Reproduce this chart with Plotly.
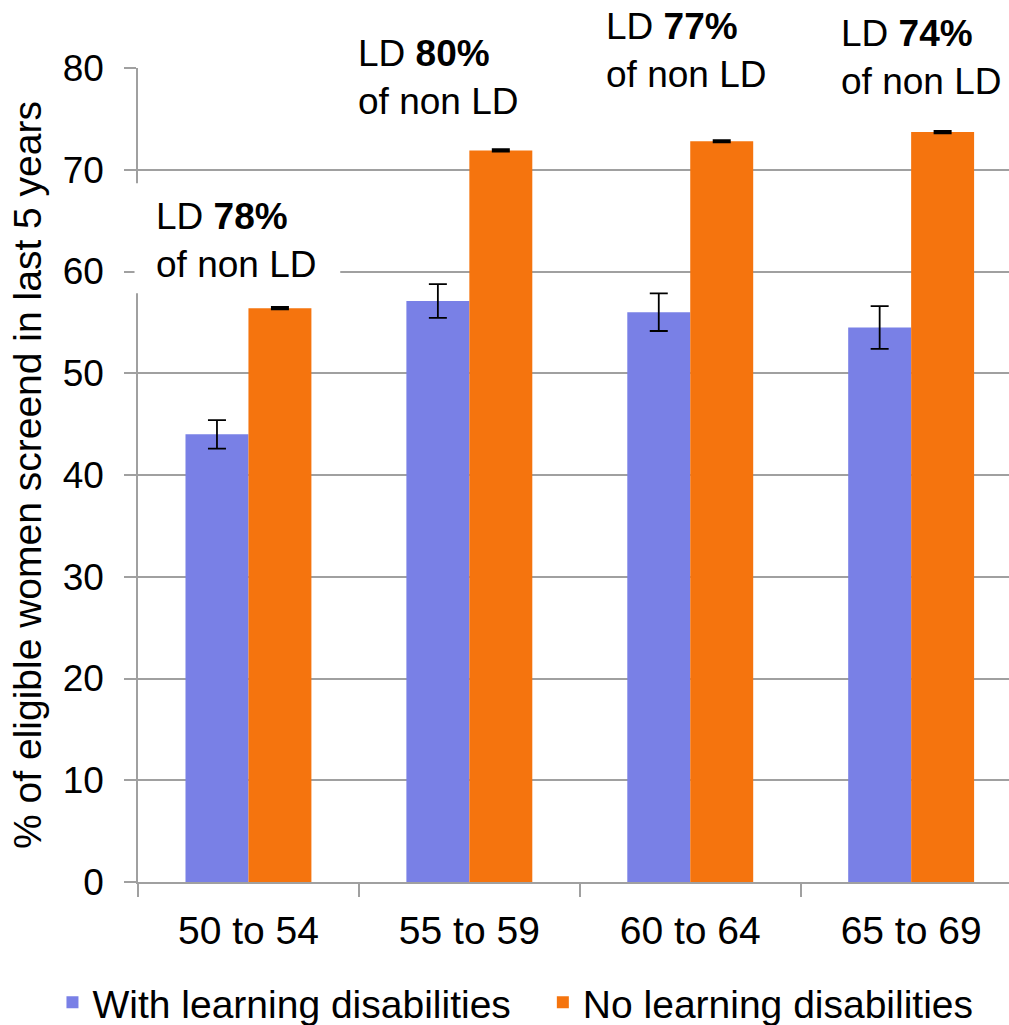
import plotly.graph_objects as go

categories = ["50 to 54", "55 to 59", "60 to 64", "65 to 69"]
with_ld = [44.0, 57.1, 56.0, 54.5]
with_ld_err = [1.4, 1.65, 1.85, 2.1]
no_ld = [56.4, 71.9, 72.8, 73.7]
no_ld_err = [0.08, 0.08, 0.08, 0.08]
ratio_labels = ["78%", "80%", "77%", "74%"]

BLUE = "rgb(121,128,230)"
ORANGE = "rgb(245,116,14)"
GRID = "#a0a0a0"
FONT = "Liberation Sans, Arial, sans-serif"

fig = go.Figure()
fig.add_trace(go.Bar(
    x=categories, y=with_ld, name="With learning disabilities",
    marker=dict(color=BLUE, line=dict(width=0)),
    error_y=dict(type="data", array=with_ld_err, visible=True,
                 color="black", thickness=1.8, width=9),
    legend="legend",
))
fig.add_trace(go.Bar(
    x=categories, y=no_ld, name="No learning disabilities",
    marker=dict(color=ORANGE, line=dict(width=0)),
    error_y=dict(type="data", array=no_ld_err, visible=True,
                 color="black", thickness=2.5, width=9),
    legend="legend2",
))

# annotation boxes (white backgrounds that hide gridlines) in paper coords
boxes = [
    (-0.004, 0.2322, 0.7232, 0.8583),
    (0.2322, 0.4640, 0.93, 1.05),
    (0.5157, 0.7475, 0.95, 1.08),
    (0.7864, 1.01, 0.95, 1.08),
]
for x0, x1, y0, y1 in boxes:
    fig.add_shape(type="rect", xref="paper", yref="paper",
                  x0=x0, x1=x1, y0=y0, y1=y1,
                  fillcolor="white", line=dict(width=0), layer="above")

ann_pos = [(0.0187, 0.7883), (0.2505, 0.9886), (0.5352, 1.0211), (0.8049, 1.0131)]
for (ax, ay), lab in zip(ann_pos, ratio_labels):
    fig.add_annotation(
        xref="paper", yref="paper", x=ax, y=ay,
        xanchor="left", yanchor="middle", align="left",
        text=f"LD <b>{lab}</b><br>of non LD", showarrow=False,
        font=dict(size=37, color="black", family=FONT),
    )

legend_common = dict(orientation="h", xref="container", yref="container",
                     y=0.022, xanchor="left", yanchor="middle",
                     font=dict(size=39, family=FONT),
                     bgcolor="rgba(0,0,0,0)")

fig.update_layout(
    width=1009, height=1025,
    margin=dict(l=138, r=0, t=68, b=143, pad=0),
    paper_bgcolor="white", plot_bgcolor="white",
    barmode="group", bargap=0.43, bargroupgap=0,
    font=dict(family=FONT, color="black", size=38),
    showlegend=True,
    legend=dict(x=0.052, **legend_common),
    legend2=dict(x=0.538, **legend_common),
)
fig.update_xaxes(
    type="category", range=[-0.5, 3.443],
    showline=True, linecolor=GRID, linewidth=1.5,
    ticks="outside", tickson="boundaries", ticklen=13, tickcolor=GRID, tickwidth=1.5,
    showgrid=False, tickfont=dict(size=39), ticklabelstandoff=13,
)
fig.update_yaxes(
    range=[0, 80], dtick=10,
    showline=True, linecolor=GRID, linewidth=1.5,
    ticks="outside", ticklen=12, tickcolor=GRID, tickwidth=1.5,
    showgrid=True, gridcolor=GRID, gridwidth=1.5, zeroline=False,
    tickfont=dict(size=37), ticklabelstandoff=13,
    title=dict(text="% of eligible women screend in last 5 years",
               font=dict(size=39), standoff=9),
)

fig.write_html("out.html", post_script="document.body.style.margin='0';",
               config={"displayModeBar": False})
